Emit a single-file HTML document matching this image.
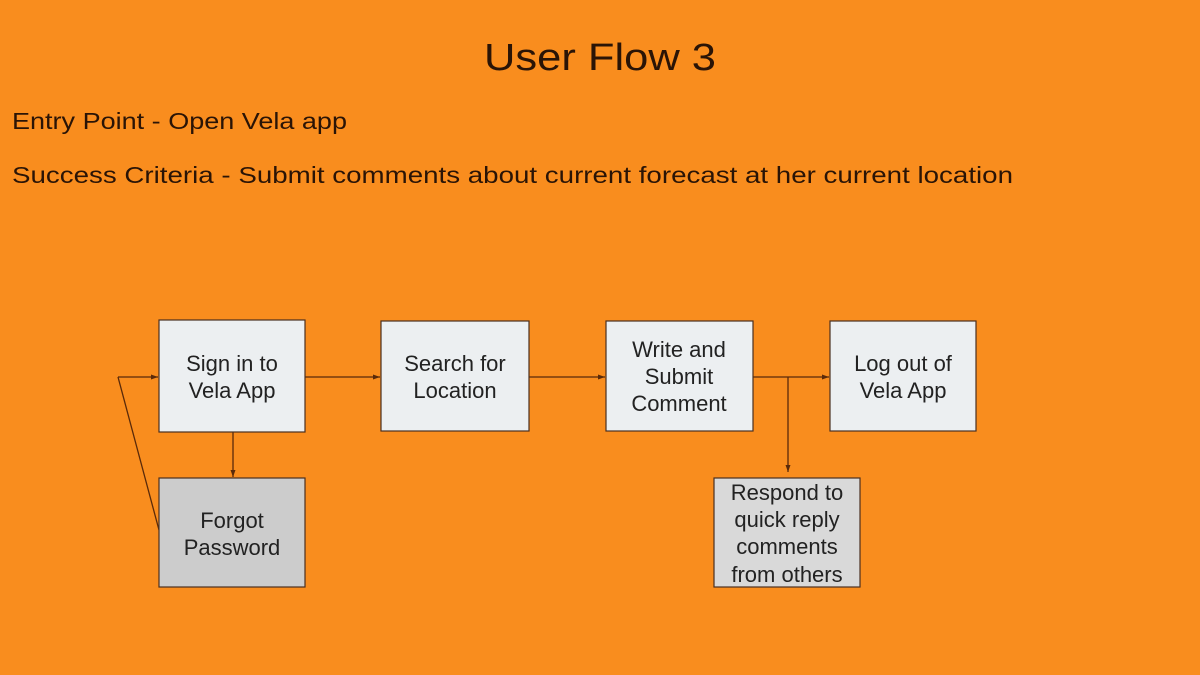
<!DOCTYPE html>
<html><head><meta charset="utf-8"><style>
html,body{margin:0;padding:0;background:#F98D1E;}
svg{display:block}
</style></head><body>
<svg width="1200" height="675" viewBox="0 0 1200 675" xmlns="http://www.w3.org/2000/svg">
<defs><marker id="a" markerWidth="8" markerHeight="8" refX="7" refY="4" orient="auto" markerUnits="userSpaceOnUse"><path d="M0,1.5 L7,4 L0,6.5z" fill="#5a2a0a"/></marker></defs>
<rect width="1200" height="675" fill="#F98D1E"/>
<g font-family="Liberation Sans, sans-serif" fill="#2a1406">
<text x="600" y="70" font-size="38" text-anchor="middle" textLength="232" lengthAdjust="spacingAndGlyphs">User Flow 3</text>
<text x="12" y="129" font-size="23" textLength="335" lengthAdjust="spacingAndGlyphs">Entry Point - Open Vela app</text>
<text x="12" y="183" font-size="23" textLength="1001" lengthAdjust="spacingAndGlyphs">Success Criteria - Submit comments about current forecast at her current location</text>
</g>
<g stroke="#5a2a0a" stroke-width="1.3" fill="none">
<line x1="118" y1="377" x2="158" y2="377" marker-end="url(#a)"/>
<line x1="118" y1="377" x2="159" y2="530"/>
<line x1="305" y1="377" x2="380" y2="377" marker-end="url(#a)"/>
<line x1="529" y1="377" x2="605" y2="377" marker-end="url(#a)"/>
<line x1="753" y1="377" x2="829" y2="377" marker-end="url(#a)"/>
<line x1="788" y1="377" x2="788" y2="472" marker-end="url(#a)"/>
<line x1="233" y1="432" x2="233" y2="477" marker-end="url(#a)"/>
</g>
<g stroke="#4a3020" stroke-width="1.2">
<rect x="159" y="320" width="146" height="112" fill="#ECEFF1"/>
<rect x="159" y="478" width="146" height="109" fill="#CCCCCC"/>
<rect x="381" y="321" width="148" height="110" fill="#ECEFF1"/>
<rect x="606" y="321" width="147" height="110" fill="#ECEFF1"/>
<rect x="830" y="321" width="146" height="110" fill="#ECEFF1"/>
<rect x="714" y="478" width="146" height="109" fill="#D9D9D9"/>
</g>
<g font-family="Liberation Sans, sans-serif" font-size="22" fill="#222" text-anchor="middle">
<text x="232" y="371">Sign in to</text><text x="232" y="398">Vela App</text>
<text x="232" y="528">Forgot</text><text x="232" y="555">Password</text>
<text x="455" y="371">Search for</text><text x="455" y="398">Location</text>
<text x="679" y="357">Write and</text><text x="679" y="384">Submit</text><text x="679" y="411">Comment</text>
<text x="903" y="371">Log out of</text><text x="903" y="398">Vela App</text>
<text x="787" y="500">Respond to</text><text x="787" y="527">quick reply</text><text x="787" y="554">comments</text><text x="787" y="582">from others</text>
</g>
</svg>
</body></html>
